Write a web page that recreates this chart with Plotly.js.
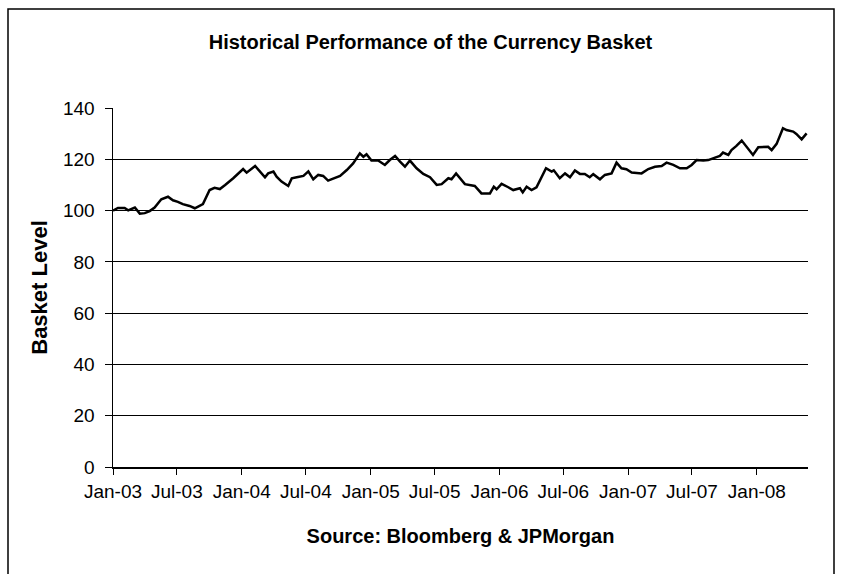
<!DOCTYPE html>
<html>
<head>
<meta charset="utf-8">
<script src="https://cdn.plot.ly/plotly-3.0.1.min.js"></script>
<style>html,body{margin:0;padding:0;background:#fff;}#chart{width:844px;height:574px;}</style>
</head>
<body>
<div id="chart"></div>
<script>
var dates = ['2003-01-01','2003-01-15','2003-02-03','2003-02-13','2003-03-04','2003-03-18','2003-04-01','2003-04-15','2003-04-29','2003-05-18','2003-06-06','2003-06-20','2003-07-04','2003-07-18','2003-08-06','2003-08-21','2003-09-13','2003-10-02','2003-10-16','2003-10-31','2003-11-15','2003-12-08',
'2004-01-05','2004-01-15','2004-02-08','2004-02-22','2004-03-07','2004-03-16','2004-03-31','2004-04-09','2004-04-23','2004-05-12','2004-05-22','2004-06-05','2004-06-24','2004-07-08','2004-07-22','2004-08-05','2004-08-19','2004-09-02','2004-09-17','2004-10-06','2004-10-25','2004-11-12','2004-12-01','2004-12-11','2004-12-20',
'2005-01-03','2005-01-22','2005-02-10','2005-02-24','2005-03-11','2005-03-25','2005-04-08','2005-04-22','2005-05-11','2005-05-30','2005-06-18','2005-07-07','2005-07-21','2005-08-09','2005-08-18','2005-08-31','2005-09-11','2005-09-25','2005-10-23','2005-11-11','2005-12-05','2005-12-16','2005-12-24',
'2006-01-07','2006-01-26','2006-02-09','2006-02-28','2006-03-08','2006-03-19','2006-04-02','2006-04-16','2006-04-26','2006-05-13','2006-05-29','2006-06-04','2006-06-21','2006-07-06','2006-07-20','2006-08-03','2006-08-17','2006-08-31','2006-09-14','2006-09-24','2006-10-13','2006-10-27','2006-11-15','2006-11-29','2006-12-13','2006-12-27',
'2007-01-11','2007-02-08','2007-02-27','2007-03-18','2007-04-06','2007-04-20','2007-05-09','2007-05-28','2007-06-16','2007-06-30','2007-07-14','2007-08-02','2007-08-16','2007-09-04','2007-09-18','2007-09-27','2007-10-12','2007-10-21','2007-11-04','2007-11-19','2007-12-03','2007-12-17','2007-12-21',
'2008-01-05','2008-02-02','2008-02-12','2008-02-26','2008-03-15','2008-03-25','2008-04-13','2008-04-22','2008-05-07','2008-05-21'];
var basketLevel = [100.0,101.0,101.0,100.1,101.2,98.8,99.0,99.8,101.2,104.4,105.4,104.0,103.4,102.5,101.8,100.9,102.5,108.0,108.9,108.4,110.0,112.6,
116.2,114.8,117.4,115.2,113.0,114.5,115.2,113.2,111.3,109.6,112.6,113.0,113.5,115.3,112.2,113.9,113.5,111.7,112.6,113.5,115.8,118.4,122.3,121.0,122.0,
119.5,119.5,117.8,119.7,121.3,119.1,117.1,119.5,116.5,114.3,113.0,110.0,110.3,112.6,112.2,114.5,112.6,110.3,109.6,106.7,106.7,109.3,108.3,
110.4,109.1,108.0,108.7,107.1,109.3,108.0,109.1,111.9,116.5,115.2,115.7,112.6,114.5,113.0,115.6,114.3,114.3,113.0,114.2,112.2,113.9,114.5,118.7,116.5,116.1,
114.8,114.5,116.2,117.1,117.4,118.7,117.8,116.5,116.5,117.8,119.7,119.5,119.7,120.8,121.3,122.6,121.7,123.6,125.2,127.3,124.9,122.6,121.7,
124.7,124.9,123.6,126.0,132.1,131.4,130.8,129.9,127.8,130.1];
var tickDates = ['2003-01-01','2003-07-01','2004-01-01','2004-07-01','2005-01-01','2005-07-01','2006-01-01','2006-07-01','2007-01-01','2007-07-01','2008-01-01'];
var tickLabels = ['Jan-03','Jul-03','Jan-04','Jul-04','Jan-05','Jul-05','Jan-06','Jul-06','Jan-07','Jul-07','Jan-08'];
var yTicks = [0,20,40,60,80,100,120,140];

var FONT = '"Liberation Sans Narrow", "Arial Narrow", "Liberation Sans", Arial, sans-serif';

var trace = {
  x: dates, y: basketLevel, type: 'scatter', mode: 'lines',
  line: {color: '#000', width: 2.5}, hoverinfo: 'x+y'
};

var layout = {
  width: 844, height: 574,
  paper_bgcolor: '#fff', plot_bgcolor: '#fff',
  margin: {l: 113, r: 36, t: 108, b: 107},
  showlegend: false,
  title: {text: '<b>Historical Performance of the Currency Basket</b>', font: {family: FONT, size: 20, color: '#000'},
          x: 0.51, xanchor: 'center', y: 1 - 42/574, yanchor: 'middle'},
  xaxis: {
    type: 'date', range: ['2003-01-01', '2008-05-25'],
    tickvals: tickDates, ticktext: tickLabels,
    tickfont: {family: FONT, size: 19, color: '#000'},
    ticks: 'outside', ticklen: 6, tickcolor: '#000', tickwidth: 1,
    showline: true, linecolor: '#000', linewidth: 1.5,
    showgrid: false, zeroline: false,
    ticklabelstandoff: 1,
    title: {text: '<b>Source: Bloomberg & JPMorgan</b>', font: {family: FONT, size: 20, color: '#000'}, standoff: 27}
  },
  yaxis: {
    range: [0, 140], tickvals: yTicks,
    tickfont: {family: FONT, size: 19, color: '#000'},
    ticks: 'outside', ticklen: 7, tickcolor: '#000', tickwidth: 1,
    showline: true, linecolor: '#000', linewidth: 1.5,
    showgrid: true, gridcolor: '#000', gridwidth: 1,
    zeroline: false,
    ticklabelstandoff: 6,
    title: {text: '<b>Basket Level</b>', font: {family: FONT, size: 22, color: '#000'}, standoff: 9}
  },
  shapes: [{type: 'rect', xref: 'paper', yref: 'paper',
    x0: (8 - 113) / 695, x1: (834 - 113) / 695,
    y0: -0.5, y1: (467 - 9) / 359,
    line: {color: '#000', width: 1.5}, fillcolor: 'rgba(0,0,0,0)', layer: 'below'}]
};

Plotly.newPlot('chart', [trace], layout, {displayModeBar: false, staticPlot: true});
</script>
</body>
</html>
